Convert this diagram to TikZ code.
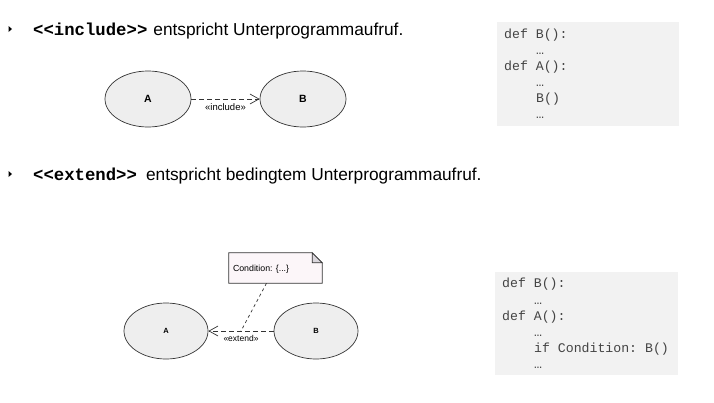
\documentclass[tikz,border=0pt]{standalone}
\usepackage{fontspec}
\setmainfont{Liberation Sans}
\setmonofont{Liberation Mono}
\usetikzlibrary{shapes,calc,positioning,arrows.meta,backgrounds}
\definecolor{casefill}{HTML}{EEEEEE}
\definecolor{notefill}{HTML}{FCF6F9}
\definecolor{notefold}{HTML}{DAD6DC}
\definecolor{codebg}{HTML}{F2F2F2}
\definecolor{codetext}{HTML}{444444}

\begin{document}
\begin{tikzpicture}[x=1pt,y=-1pt,
  every node/.append style={inner sep=0pt},
  case/.style={ellipse,draw=black!80,fill=casefill,line width=0.7pt,
    minimum width=86pt,minimum height=56pt},
  dep/.style={draw=black!80,line width=0.7pt,dash pattern=on 5pt off 3pt,
    -{Straight Barb[length=9pt,width=10pt]}}]
  \tikzstyle{head} = [anchor=base west,font=\fontsize{17.3}{20}\selectfont]
  \tikzstyle{code} = [anchor=base west,text=codetext,font=\ttfamily\fontsize{13.2}{16}\selectfont]
  \tikzstyle{codebox} = [fill=codebg,minimum width=182pt,minimum height=104pt]
  \tikzstyle{stereo} = [font=\fontsize{9.5}{10}\selectfont]
  \useasboundingbox (0,0) rectangle (714,402);

  % include
  \fill (8.5,26) -- (12,29) -- (8.5,32) -- cycle;
  \node (1_head) [head] at (33,35) {\texttt{\bfseries <{}<include>{}>}\hspace{6pt}entspricht Unterprogrammaufruf.};
  \node (1_a) [case,font=\bfseries\fontsize{10.5}{11}\selectfont] at (148,99) {A};
  \node (1_b) [case,font=\bfseries\fontsize{10.5}{11}\selectfont] at (303,99) {B};
  \draw[dep] (1_a) -- (1_b) node[stereo,midway,below=4pt] {«include»};
  \node (1_code) [codebox] at (587.5,74) {};
  \node (1_c1) [code] at (504,38) {def B():};
  \node (1_c2) [code] at (536,54) {…};
  \node (1_c3) [code] at (504,70) {def A():};
  \node (1_c4) [code] at (536,86) {…};
  \node (1_c5) [code] at (536,102) {B()};
  \node (1_c6) [code] at (536,118) {…};

  % extend
  \fill (8.5,171) -- (12,174) -- (8.5,177) -- cycle;
  \node (2_head) [head] at (33,180) {\texttt{\bfseries <{}<extend>{}>}\hspace{9pt}entspricht bedingtem Unterprogrammaufruf.};
  \node (2_a) [case,minimum width=84pt,font=\bfseries\fontsize{7.5}{8}\selectfont] at (166,331) {A};
  \node (2_b) [case,minimum width=84pt,font=\bfseries\fontsize{7.5}{8}\selectfont] at (316,331) {B};
  \draw[dep] (2_b) -- (2_a) node[stereo,font=\fontsize{8.5}{9}\selectfont,midway,below=4pt] (2_lab) {«extend»};
  \coordinate (2_mid) at ($(2_a.east)!0.5!(2_b.west)$);
  \node (2_note) [minimum width=93pt,minimum height=30pt] at (275.5,268) {};
  \node (2_text) [anchor=west,font=\fontsize{8.8}{9}\selectfont] at ($(2_note.west)+(4,1)$) {Condition: \{...\}};
  \begin{pgfonlayer}{background}
    \draw[fill=notefill,draw=black!80,line width=0.7pt] (2_note.north west) -- ($(2_note.north east)+(-10,0)$)
      -- ($(2_note.north east)+(0,10)$) -- (2_note.south east) -- (2_note.south west) -- cycle;
  \end{pgfonlayer}
  \draw[fill=notefold,draw=black!80,line width=0.7pt] ($(2_note.north east)+(-10,0)$) -- ++(0,10)
    -- ($(2_note.north east)+(0,10)$) -- cycle;
  \draw[black!80,line width=0.7pt,dash pattern=on 3pt off 3pt] ($(2_note.south)+(-9,0)$) -- (2_mid);
  \node (2_code) [codebox,minimum width=183pt,minimum height=103pt] at (586.5,323.5) {};
  \node (2_c1) [code] at (502,287) {def B():};
  \node (2_c2) [code] at (534,304) {…};
  \node (2_c3) [code] at (502,320) {def A():};
  \node (2_c4) [code] at (534,336) {…};
  \node (2_c5) [code] at (534,352) {if Condition: B()};
  \node (2_c6) [code] at (534,368) {…};
\end{tikzpicture}
\end{document}
